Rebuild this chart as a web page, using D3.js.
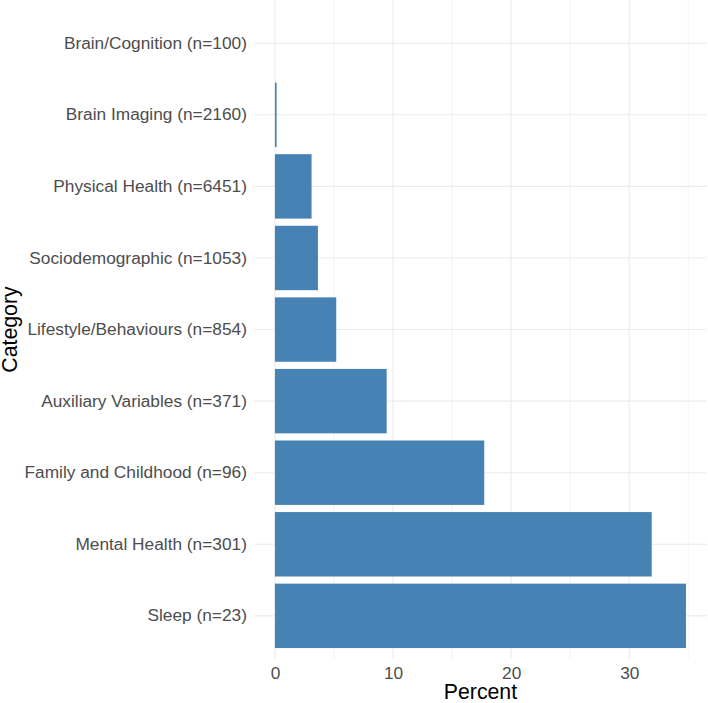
<!DOCTYPE html>
<html>
<head>
<meta charset="utf-8">
<script src="https://cdn.jsdelivr.net/npm/d3@7"></script>
<style>
  html, body { margin: 0; padding: 0; background: #fff; }
  svg { display: block; }
  text { font-family: "Liberation Sans", Arial, Helvetica, sans-serif; }
</style>
</head>
<body>
<script>
// Data (top to bottom as displayed)
const categories = [
  "Brain/Cognition (n=100)",
  "Brain Imaging (n=2160)",
  "Physical Health (n=6451)",
  "Sociodemographic (n=1053)",
  "Lifestyle/Behaviours (n=854)",
  "Auxiliary Variables (n=371)",
  "Family and Childhood (n=96)",
  "Mental Health (n=301)",
  "Sleep (n=23)"
];
const percents = [0, 0.14, 3.1, 3.64, 5.19, 9.46, 17.72, 31.9, 34.8];
const majorTicks = [0, 10, 20, 30];
const minorTicks = [5, 15, 25, 35];
const xTitle = "Percent";
const yTitle = "Category";

const W = 708, H = 703;
const panel = { left: 254.4, right: 706.5, top: 0.3, bottom: 658.8 };

const svg = d3.select("body").append("svg")
  .attr("width", W).attr("height", H);

const maxV = d3.max(percents);
const x = d3.scaleLinear()
  .domain([-0.05 * maxV, maxV * 1.05])
  .range([panel.left, panel.right]);

const y = d3.scaleBand()
  .domain(categories)
  .range([panel.top, panel.bottom])
  .paddingInner(0.1)
  .paddingOuter(0.15);

const data = categories.map((c, i) => ({ cat: c, val: percents[i] }));

// Grid lines
const grid = svg.append("g");
grid.selectAll("line.minor").data(minorTicks).join("line")
  .attr("x1", d => x(d)).attr("x2", d => x(d))
  .attr("y1", panel.top).attr("y2", panel.bottom)
  .attr("stroke", "#ebebeb").attr("stroke-width", 0.6);
grid.selectAll("line.majorx").data(majorTicks).join("line")
  .attr("x1", d => x(d)).attr("x2", d => x(d))
  .attr("y1", panel.top).attr("y2", panel.bottom)
  .attr("stroke", "#ebebeb").attr("stroke-width", 1.1);
grid.selectAll("line.majory").data(categories).join("line")
  .attr("x1", panel.left).attr("x2", panel.right)
  .attr("y1", d => y(d) + y.bandwidth() / 2).attr("y2", d => y(d) + y.bandwidth() / 2)
  .attr("stroke", "#ebebeb").attr("stroke-width", 1.1);

// Bars
svg.append("g").selectAll("rect").data(data).join("rect")
  .attr("x", x(0))
  .attr("y", d => y(d.cat))
  .attr("width", d => Math.max(0, x(d.val) - x(0)))
  .attr("height", y.bandwidth())
  .attr("fill", "#4682B4");

// Y axis labels
const yAxis = d3.axisLeft(y).tickSize(0).tickPadding(7.5);
const gy = svg.append("g").attr("transform", `translate(${panel.left},0)`).call(yAxis);
gy.select(".domain").remove();
gy.selectAll("text")
  .attr("fill", "#4d4d4d")
  .style("font-size", "17.3px")
  .style("font-family", "'Liberation Sans', Arial, sans-serif");

// X axis labels
const xAxis = d3.axisBottom(x).tickValues(majorTicks).tickSize(0).tickPadding(8);
const gx = svg.append("g").attr("transform", `translate(0,${panel.bottom})`).call(xAxis);
gx.select(".domain").remove();
gx.selectAll("text")
  .attr("fill", "#4d4d4d")
  .style("font-size", "17.3px")
  .style("font-family", "'Liberation Sans', Arial, sans-serif");

// Axis titles
svg.append("text")
  .attr("x", (panel.left + panel.right) / 2)
  .attr("y", 699)
  .attr("text-anchor", "middle")
  .attr("fill", "#000")
  .style("font-size", "21.3px")
  .text(xTitle);

svg.append("text")
  .attr("transform", `translate(16.5,${(panel.top + panel.bottom) / 2}) rotate(-90)`)
  .attr("text-anchor", "middle")
  .attr("fill", "#000")
  .style("font-size", "21.3px")
  .text(yTitle);
</script>
</body>
</html>
